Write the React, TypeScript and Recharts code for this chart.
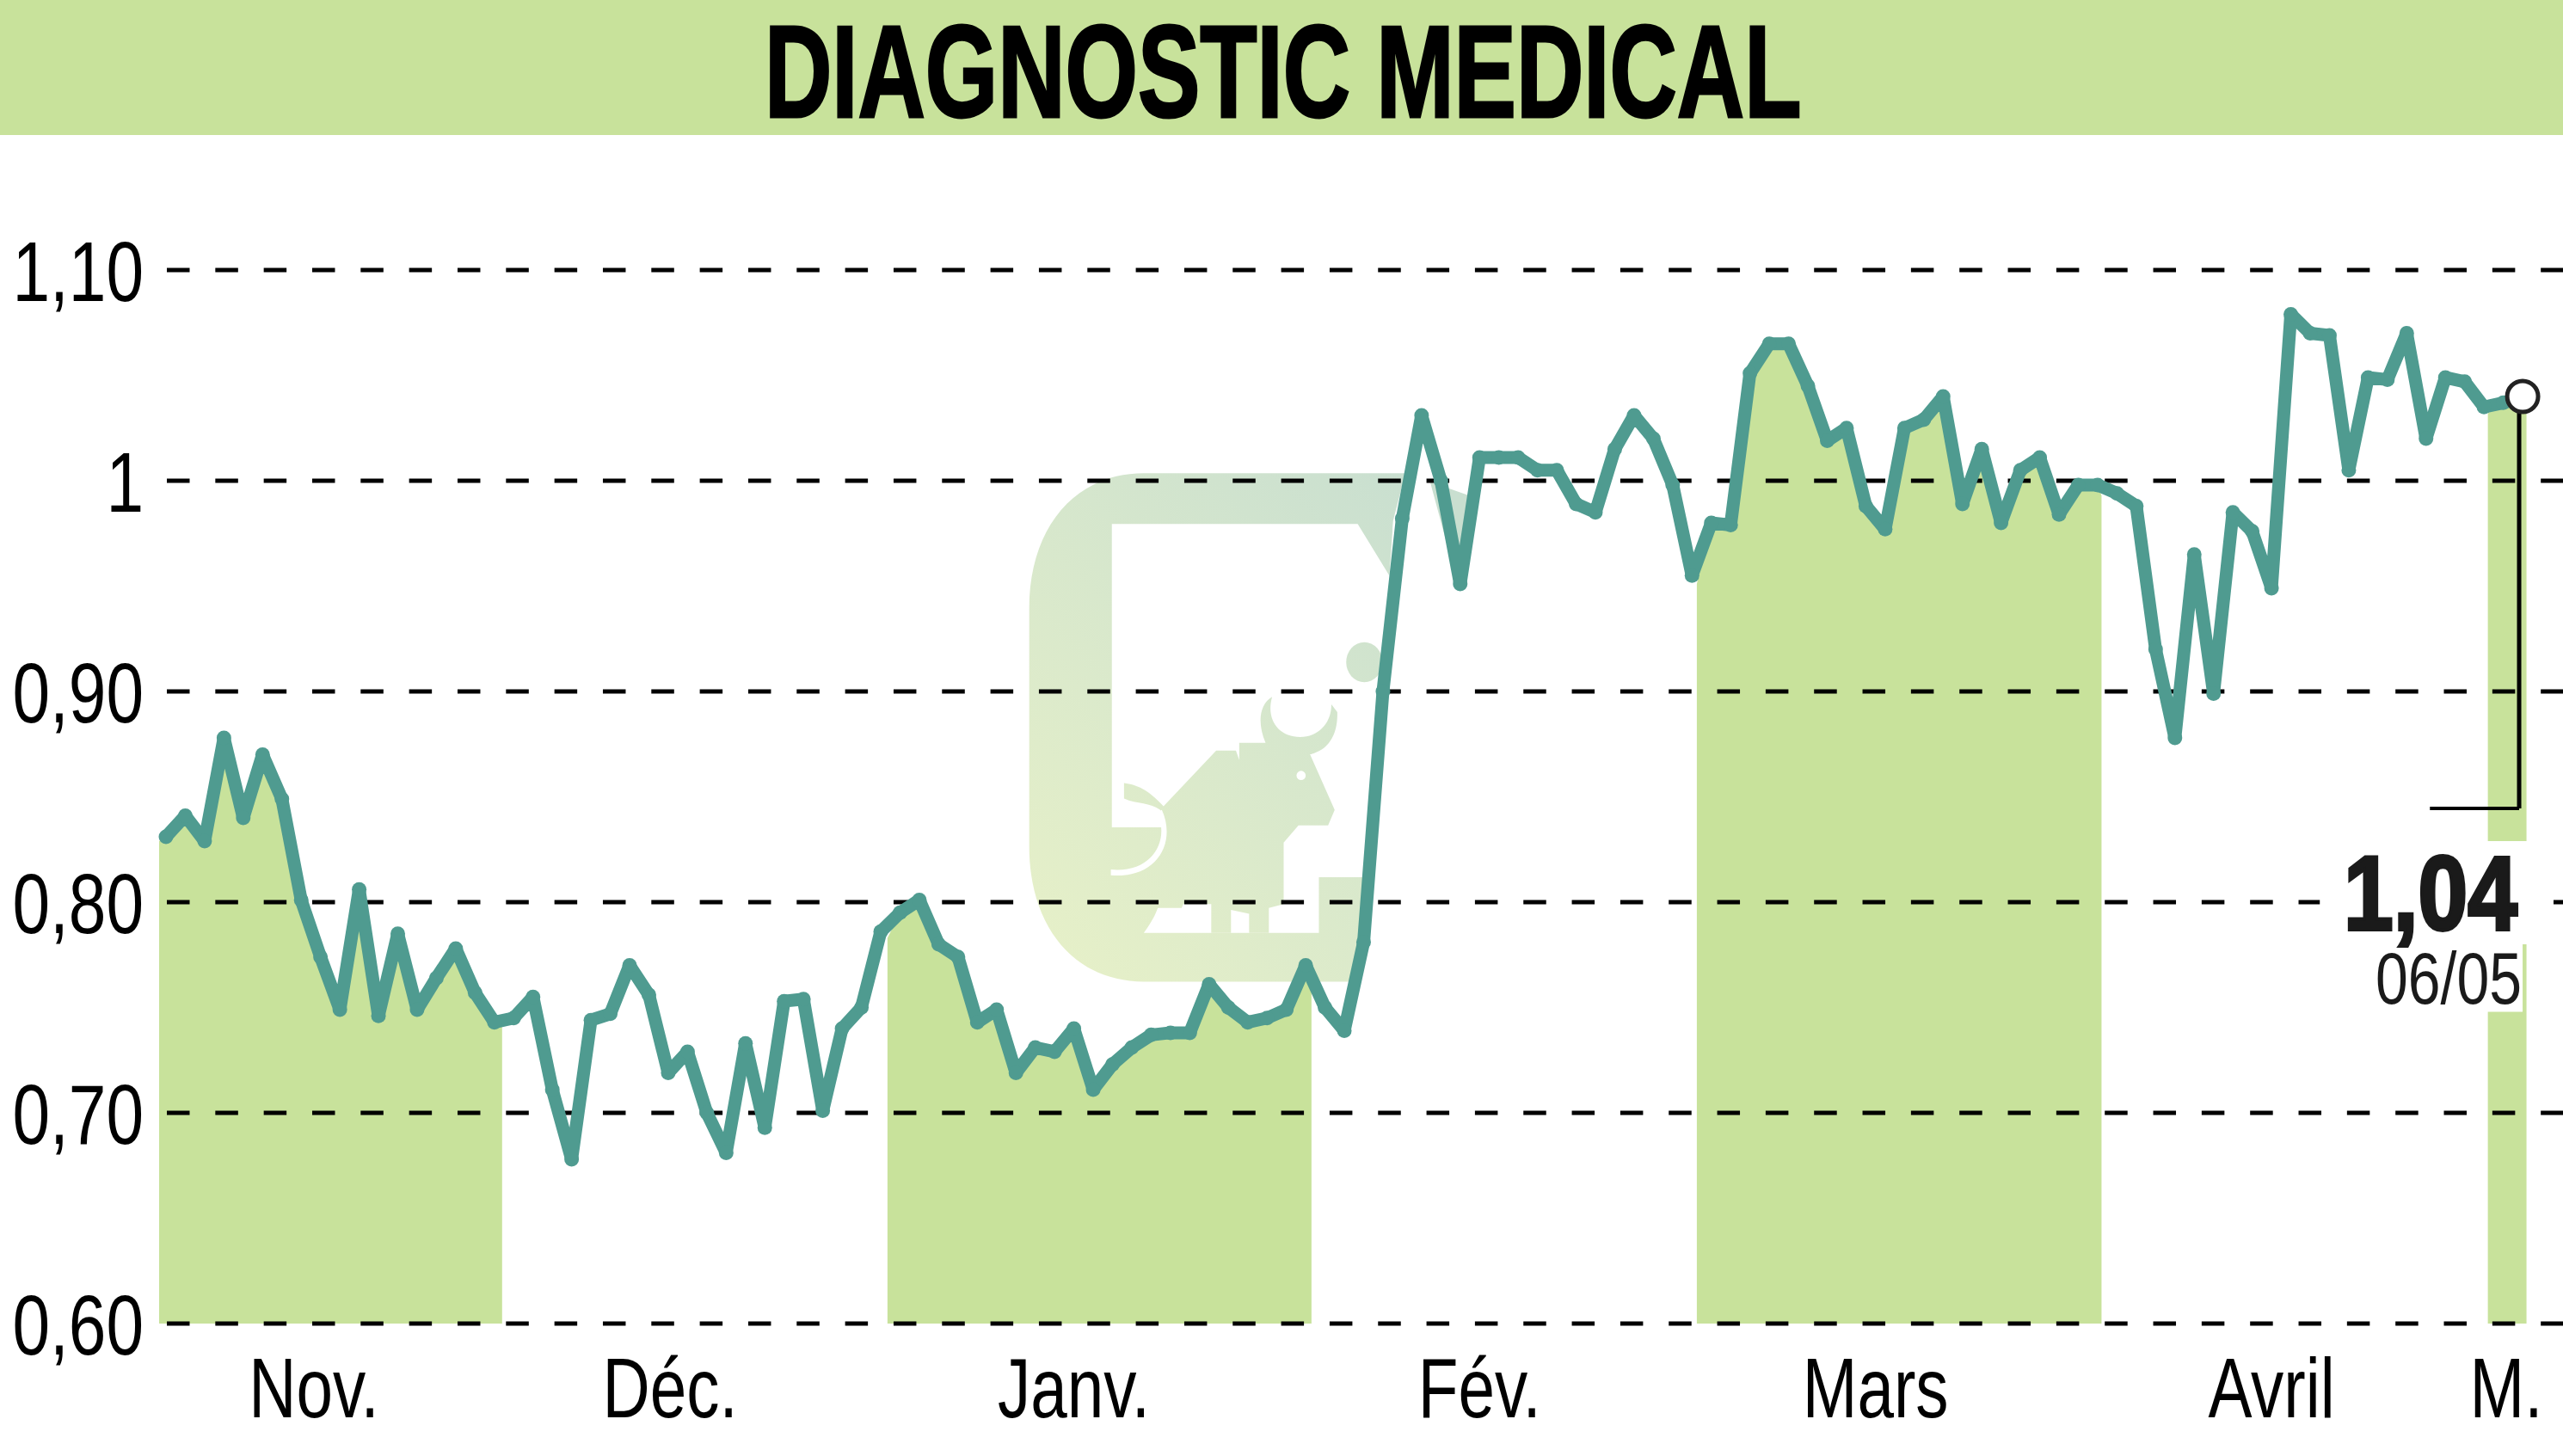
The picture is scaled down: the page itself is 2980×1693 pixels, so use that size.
import {
  Area,
  CartesianGrid,
  ComposedChart,
  Line,
  ReferenceArea,
  ReferenceDot,
  ReferenceLine,
  XAxis,
  YAxis,
} from 'recharts';

const WIDTH = 2980;
const HEIGHT = 1693;
const FONT = '"Liberation Sans", sans-serif';
const GREEN = '#c8e29b';
const TEAL = '#4f9b90';

// closing price per trading day
const prices = [
  0.831, 0.841, 0.829, 0.878, 0.84, 0.87, 0.849, 0.801, 0.774, 0.749,
  0.806, 0.746, 0.785, 0.749, 0.764, 0.778, 0.757, 0.743, 0.745, 0.755,
  0.711, 0.678, 0.744, 0.747, 0.77, 0.756, 0.719, 0.729, 0.7, 0.681,
  0.733, 0.693, 0.753, 0.754, 0.701, 0.74, 0.75, 0.786, 0.795, 0.801,
  0.78, 0.774, 0.743, 0.749, 0.719, 0.731, 0.729, 0.74, 0.711, 0.723,
  0.731, 0.737, 0.738, 0.738, 0.761, 0.75, 0.743, 0.745, 0.749, 0.77,
  0.75, 0.739, 0.781, 0.9, 0.982, 1.031, 1.0, 0.951, 1.011, 1.011,
  1.011, 1.005, 1.005, 0.989, 0.985, 1.015, 1.031, 1.02, 0.998, 0.955,
  0.98, 0.979, 1.051, 1.065, 1.065, 1.045, 1.019, 1.025, 0.988, 0.977,
  1.025, 1.029, 1.04, 0.989, 1.015, 0.98, 1.005, 1.011, 0.984, 0.998,
  0.998, 0.994, 0.988, 0.92, 0.878, 0.965, 0.899, 0.985, 0.976, 0.949,
  1.079, 1.07, 1.069, 1.005, 1.049, 1.048, 1.07, 1.02, 1.049, 1.047,
  1.035, 1.037, 1.04,
];

// shaded months: [start day, value at start, end day, value at end]
const monthBands = [
  [-0.356, 0.829, 17.4, 0.741],
  [37.35, 0.783, 59.3, 0.762],
  [79.25, 0.951, 100.2, 0.993],
  [120.2, 1.032, 122.2, 1.04],
];

const monthLabels = ['Nov.', 'Déc.', 'Janv.', 'Fév.', 'Mars', 'Avril', 'M.'];
const monthCenters = [7.66, 26.1, 47, 68, 88.5, 109, 121.15];
const yTicks = [0.6, 0.7, 0.8, 0.9, 1, 1.1];

const inBand = (x: number) => monthBands.some((b) => x >= b[0] && x <= b[2]);

const rows = [
  ...prices.map((price, x) => ({ x, price, band: inBand(x) ? price : null })),
  ...monthBands.flatMap((b) => [
    { x: b[0], price: null, band: b[1] },
    { x: b[2], price: null, band: b[3] },
  ]),
].sort((a, b) => a.x - b.x);

const lastDay = prices.length - 1;
const lastPrice = prices[lastDay];

const formatY = (v: number) => (v === 1 ? '1' : v.toFixed(2).replace('.', ','));

// the original face is condensed, so the text is squeezed horizontally
const YTick = ({ y, payload }: any) => (
  <text transform={`translate(167 ${y + 36}) scale(0.8 1)`} textAnchor="end" fontFamily={FONT} fontSize={98} fill="#000">
    {formatY(payload.value)}
  </text>
);

const XTick = ({ x, payload }: any) => (
  <text transform={`translate(${x} 1648) scale(0.78 1)`} textAnchor="middle" fontFamily={FONT} fontSize={98} fill="#000">
    {monthLabels[monthCenters.indexOf(payload.value)]}
  </text>
);

// watermark, drawn in the coordinates of a 1568px crop of its area
const Watermark = () => (
  <g transform="translate(1150 520) scale(0.3827 0.4464)">
    <defs>
      <linearGradient id="wm" gradientUnits="userSpaceOnUse" x1="200" y1="1350" x2="1300" y2="80">
        <stop offset="0" stopColor="#e6f0c8" />
        <stop offset="1" stopColor="#c9dfd0" />
      </linearGradient>
    </defs>
    <path
      d="M470,68 H1265 L1228,190 L1130,1392 H470 C260,1392 122,1250 122,1040 V420 C122,210 260,68 470,68 Z"
      fill="url(#wm)"
    />
    <path d="M1340,90 L1455,125 L1425,360 Z" fill="#c9dfd0" />
    <path
      d="M373,200 H1120 L1220,340 L1228,190 L1300,190 L1180,1120 H1002 V1265 H470 C500,1230 510,1210 520,1180 L560,990 H373 Z"
      fill="#fff"
    />
    <g fill="url(#wm)">
      <ellipse cx="1140" cy="560" rx="55" ry="52" />
      <path d="M860,650 C820,670 815,720 840,770 H760 V815 L750,790 H690 L530,935 C480,890 450,880 410,875 V915 C450,930 490,925 520,945 L530,1000 L500,1200 H585 L590,1190 H675 V1265 H735 V1205 L790,1215 V1265 H850 V1200 L895,1190 V1030 L940,985 L1030,985 L1050,945 L975,800 C1030,790 1060,750 1058,690 L1040,670 C1040,720 1000,755 945,755 C880,755 840,710 860,650 Z" />
    </g>
    <ellipse cx="948" cy="855" rx="14" ry="12" fill="#fff" />
    <path
      d="M510,950 C550,1020 500,1110 370,1100 V1115 C510,1125 570,1030 525,945 Z"
      fill="#fff"
    />
  </g>
);

export default function App() {
  return (
    <div style={{ position: 'absolute', left: 0, top: 0, width: WIDTH, height: HEIGHT, background: '#fff', overflow: 'hidden' }}>
      <svg width={WIDTH} height={HEIGHT} style={{ position: 'absolute', left: 0, top: 0 }}>
        <rect x={0} y={0} width={WIDTH} height={157} fill={GREEN} />
        <text
          transform="translate(889 136) scale(0.7 1)"
          fontFamily={FONT}
          fontWeight="bold"
          fontSize={152}
          stroke="#000"
          strokeWidth={3}
          textLength={1722}
          lengthAdjust="spacingAndGlyphs"
        >
          DIAGNOSTIC MEDICAL
        </text>
        <Watermark />
      </svg>

      <div style={{ position: 'absolute', left: 0, top: 0 }}>
        <ComposedChart width={WIDTH} height={HEIGHT} data={rows} margin={{ top: 314, right: 0, bottom: 0, left: 0 }}>
          <XAxis
            dataKey="x"
            type="number"
            domain={[-0.356, 124.09]}
            ticks={monthCenters}
            tick={<XTick />}
            tickLine={false}
            axisLine={false}
            height={154}
            interval={0}
          />
          <YAxis
            type="number"
            domain={[0.6, 1.1]}
            ticks={yTicks}
            tick={<YTick />}
            tickLine={false}
            axisLine={false}
            width={185}
            interval={0}
          />
          <Area dataKey="band" stroke="none" fill={GREEN} fillOpacity={1} isAnimationActive={false} dot={false} activeDot={false} zIndex={-200} />
          <CartesianGrid vertical={false} stroke="#000" strokeWidth={5} strokeDasharray="0 9 26.5 20.83" />
          <ReferenceArea x1={111.5} x2={123.6} y1={0.78} y2={0.829} fill="#fff" fillOpacity={1} stroke="none" />
          <ReferenceArea x1={113.9} x2={122} y1={0.748} y2={0.78} fill="#fff" fillOpacity={1} stroke="none" />
          <Line
            dataKey="price"
            stroke={TEAL}
            strokeWidth={15}
            strokeLinejoin="bevel"
            connectNulls
            dot={{ r: 8.5, fill: TEAL, stroke: 'none' }}
            activeDot={false}
            isAnimationActive={false}
          />
          <ReferenceLine segment={[{ x: 121.82, y: lastPrice }, { x: 121.82, y: 0.8445 }]} stroke="#000" strokeWidth={5} />
          <ReferenceLine segment={[{ x: 117.2, y: 0.8445 }, { x: 121.82, y: 0.8445 }]} stroke="#000" strokeWidth={4} />
          <ReferenceDot x={lastDay} y={lastPrice} r={18} fill="#fff" stroke="#222" strokeWidth={5} />
        </ComposedChart>
      </div>

      <svg width={WIDTH} height={HEIGHT} style={{ position: 'absolute', left: 0, top: 0, pointerEvents: 'none' }}>
        <text
          transform="translate(2725 1081) scale(0.85 1)"
          fontFamily={FONT}
          fontWeight="bold"
          fontSize={122}
          fill="#1a1a1a"
          stroke="#1a1a1a"
          strokeWidth={4}
        >
          {lastPrice.toFixed(2).replace('.', ',')}
        </text>
        <text transform="translate(2762 1167) scale(0.79 1)" fontFamily={FONT} fontSize={86} fill="#1a1a1a">
          06/05
        </text>
      </svg>
    </div>
  );
}
